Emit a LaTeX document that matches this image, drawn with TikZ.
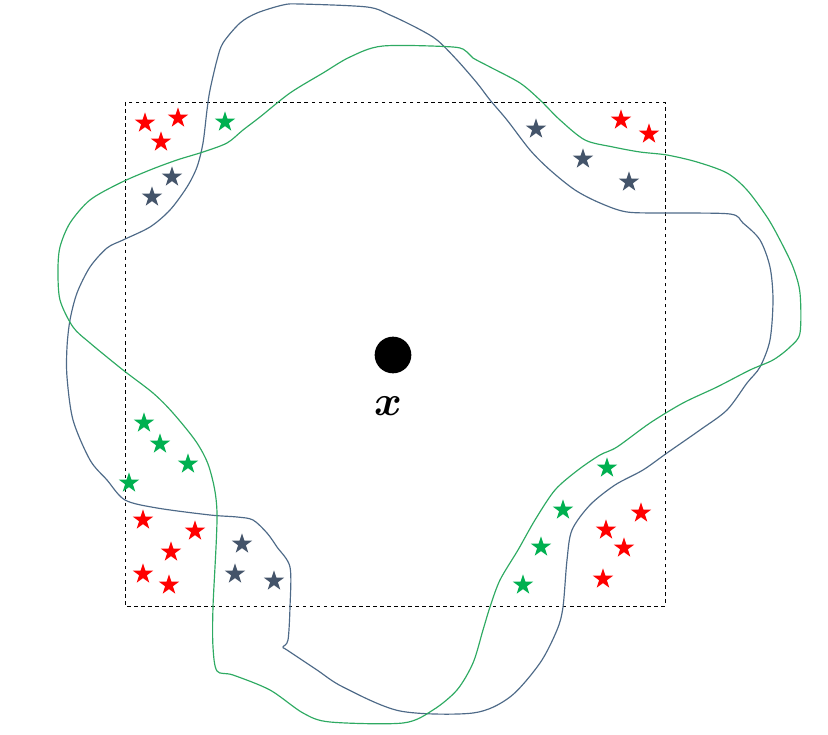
\documentclass[tikz,border=0pt]{standalone}
\usepackage{amsmath}
\usepackage{amssymb}
\usepackage{bm}
\usepackage{graphicx}
\usepackage{tikz}
\usetikzlibrary{shapes.geometric}

\definecolor{starred}{HTML}{FF0000}
\definecolor{stargreen}{HTML}{00B050}
\definecolor{starslate}{HTML}{44546A}
\definecolor{curveblue}{HTML}{4E6A88}
\definecolor{curvegreen}{HTML}{2EAA62}

\begin{document}
\begin{tikzpicture}[x=0.03cm,y=-0.03cm]
        \tikzstyle{every node}+=[inner sep=0pt]
        \tikzstyle{pt}=[star, star points=5, star point ratio=2.6, minimum size=0.64cm]
        \useasboundingbox (0,0) rectangle (828,735);
        \draw [black, dashed, line width=0.8pt] (125,102) rectangle (665,606);
        \draw [curveblue, line width=1pt] plot [smooth cycle, tension=0.5] coordinates {
            (210,90) (217,60) (223,43) (240,23) (257,13) (283,5) (300,4) (367,7) (390,15)
            (417,28) (437,40) (457,60) (477,83) (490,100) (507,120) (530,150) (550,170)
            (575,190) (600,203) (627,212) (667,213) (730,214) (743,223) (760,240) (770,267)
            (773,300) (770,340) (760,367) (747,383) (727,410) (700,430) (667,453) (643,470)
            (615,485) (590,505) (572,530) (567,560) (563,607) (557,630) (540,663) (510,697)
            (473,713) (400,711) (343,687) (317,670) (287,650) (283,647) (288,640) (290,607)
            (290,567) (277,547) (267,533) (253,520) (237,517) (210,515) (157,508) (125,500)
            (107,480) (90,460) (73,420) (67,377) (67,347) (70,320) (77,293) (90,267)
            (107,248) (123,240) (150,227) (170,210) (187,187) (197,167) (203,143) (207,110)};
        \draw [curvegreen, line width=1pt] plot [smooth cycle, tension=0.5] coordinates {
            (260,117) (290,93) (323,73) (350,57) (383,46) (453,47) (467,52) (473,58) (490,67)
            (520,83) (540,100) (560,120) (585,140) (613,147) (640,152) (667,155) (697,162)
            (727,173) (747,190) (767,217) (780,240) (793,267) (800,293) (800,333) (790,347)
            (773,360) (750,370) (717,387) (683,403) (650,423) (617,447) (600,455) (578,470)
            (555,490) (535,520) (518,550) (500,580) (490,607) (483,630) (473,663) (457,690)
            (433,710) (403,723) (330,722) (303,713) (270,690) (233,675) (217,671) (213,647)
            (213,607) (217,513) (210,470) (197,443) (173,413) (153,393) (123,370) (90,343)
            (73,327) (60,300) (58,270) (60,247) (70,223) (90,200) (120,183) (150,170)
            (177,160) (203,152) (227,143) (243,130)};
        % center point
        \node (x) [circle, fill=black, minimum size=1.1cm] at (393,355) {};
        \node (xlabel) at (388,406) {\scalebox{3.6}{$\bm{x}$}};
        % top left
        \node (tlr1) [pt, fill=starred] at (145,123) {};
        \node (tlr2) [pt, fill=starred] at (178,118) {};
        \node (tlr3) [pt, fill=starred] at (161,142) {};
        \node (tlg1) [pt, fill=stargreen] at (225,122) {};
        \node (tls1) [pt, fill=starslate] at (172,177) {};
        \node (tls2) [pt, fill=starslate] at (152,197) {};
        % top right
        \node (trs1) [pt, fill=starslate] at (536,129) {};
        \node (trs2) [pt, fill=starslate] at (583,159) {};
        \node (trs3) [pt, fill=starslate] at (629,182) {};
        \node (trr1) [pt, fill=starred] at (621,120) {};
        \node (trr2) [pt, fill=starred] at (649,134) {};
        % bottom left
        \node (blg1) [pt, fill=stargreen] at (144,423) {};
        \node (blg2) [pt, fill=stargreen] at (160,444) {};
        \node (blg3) [pt, fill=stargreen] at (188,464) {};
        \node (blg4) [pt, fill=stargreen] at (129,483) {};
        \node (blr1) [pt, fill=starred] at (143,520) {};
        \node (blr2) [pt, fill=starred] at (195,531) {};
        \node (blr3) [pt, fill=starred] at (171,552) {};
        \node (blr4) [pt, fill=starred] at (143,574) {};
        \node (blr5) [pt, fill=starred] at (169,585) {};
        \node (bls1) [pt, fill=starslate] at (242,544) {};
        \node (bls2) [pt, fill=starslate] at (235,574) {};
        \node (bls3) [pt, fill=starslate] at (274,581) {};
        % bottom right
        \node (brg1) [pt, fill=stargreen] at (607,468) {};
        \node (brg2) [pt, fill=stargreen] at (563,510) {};
        \node (brg3) [pt, fill=stargreen] at (541,547) {};
        \node (brg4) [pt, fill=stargreen] at (523,585) {};
        \node (brr1) [pt, fill=starred] at (641,513) {};
        \node (brr2) [pt, fill=starred] at (606,530) {};
        \node (brr3) [pt, fill=starred] at (624,548) {};
        \node (brr4) [pt, fill=starred] at (603,579) {};
    \end{tikzpicture}
\end{document}
